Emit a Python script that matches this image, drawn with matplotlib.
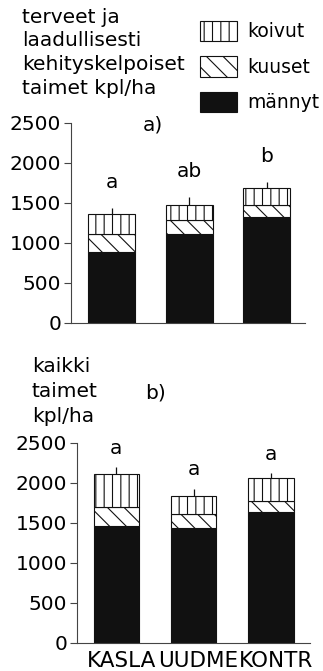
import numpy as np
import matplotlib.pyplot as plt
from matplotlib.patches import Patch
from matplotlib.transforms import ScaledTranslation

plt.rcParams['font.family'] = ['DejaVu Sans']
plt.rcParams['hatch.linewidth'] = 0.8

groups = ['KASLA', 'UUDME', 'KONTR']
species = ['männyt', 'kuuset', 'koivut']

# a) terveet ja laadullisesti kehityskelpoiset taimet, kpl/ha
a_mannyt = np.array([885, 1112, 1325])
a_kuuset = np.array([223, 171, 142])
a_koivut = np.array([246, 188, 220])
a_err = np.array([75, 96, 67])
a_letters = ['a', 'ab', 'b']

# b) kaikki taimet, kpl/ha
b_mannyt = np.array([1462, 1429, 1629])
b_kuuset = np.array([230, 179, 142])
b_koivut = np.array([416, 230, 283])
b_err = np.array([84, 87, 63])
b_letters = ['a', 'a', 'a']

styles = {
    'männyt': dict(color='#111111', edgecolor='#111111', hatch=None),
    'kuuset': dict(color='white', edgecolor='#111111', hatch='\\\\'),
    'koivut': dict(color='white', edgecolor='#111111', hatch='||'),
}

fig = plt.figure(figsize=(3.23, 6.71), dpi=100)
ax_a = fig.add_axes([0.2198, 0.5191, 0.7245, 0.2981])
ax_b = fig.add_axes([0.2384, 0.0422, 0.7214, 0.2981])


def draw_panel(ax, layers, err, letters, width, xlim, letter_off):
    x = np.arange(len(groups))
    bottom = np.zeros(len(groups))
    for name, vals in zip(species, layers):
        st = styles[name]
        ax.bar(x, vals, width, bottom=bottom, color=st['color'],
               edgecolor=st['edgecolor'], hatch=st['hatch'], linewidth=0.8)
        bottom = bottom + vals
    ax.errorbar(x, bottom, yerr=[np.zeros(len(x)), err], fmt='none',
                ecolor='#111111', elinewidth=0.9, capsize=0)
    for xi, top, lab in zip(x, bottom + err, letters):
        ax.annotate(lab, (xi, top), xytext=(0, letter_off),
                    textcoords='offset points', ha='center', va='baseline',
                    fontsize=14.5)
    ax.set_xlim(*xlim)
    ax.set_ylim(0, 2500)
    ax.set_yticks([0, 500, 1000, 1500, 2000, 2500])
    ax.tick_params(axis='y', labelsize=14.5, length=5, width=0.8, pad=2,
                   color='#444444')
    ax.tick_params(axis='x', length=0)
    for side in ['top', 'right']:
        ax.spines[side].set_visible(False)
    for side in ['left', 'bottom']:
        ax.spines[side].set_linewidth(0.8)
        ax.spines[side].set_color('#444444')
    ax.set_xticks(x)


draw_panel(ax_a, [a_mannyt, a_kuuset, a_koivut], a_err, a_letters,
           0.606, (-0.526, 2.493), 14.5)
ax_a.set_xticklabels([])
ax_a.text(0.308, 0.99, 'a)', transform=ax_a.transAxes, ha='left',
          va='center', fontsize=14.5)

draw_panel(ax_b, [b_mannyt, b_kuuset, b_koivut], b_err, b_letters,
           0.59, (-0.509, 2.507), 9.5)
ax_b.set_xticklabels(groups, fontsize=15.5)
ax_b.tick_params(axis='x', pad=6)
shift = ScaledTranslation(5 / 100, 0, fig.dpi_scale_trans)
for lab in ax_b.get_xticklabels():
    lab.set_transform(lab.get_transform() + shift)
ax_b.text(0.292, 1.248, 'b)', transform=ax_b.transAxes, ha='left',
          va='center', fontsize=14.5)

fig.text(22 / 323, 1 - 8 / 671,
         'terveet ja\nlaadullisesti\nkehityskelpoiset\ntaimet kpl/ha',
         ha='left', va='top', fontsize=14.5, linespacing=1.3)
fig.text(32 / 323, 1 - 357 / 671, 'kaikki\ntaimet\nkpl/ha',
         ha='left', va='top', fontsize=14.5, linespacing=1.4)

handles = [Patch(facecolor=styles[n]['color'], edgecolor='#111111',
                 hatch=styles[n]['hatch'], linewidth=0.8, label=n)
           for n in reversed(species)]
fig.legend(handles=handles, loc='upper left',
           bbox_to_anchor=(200 / 323, 1 - 21 / 671), frameon=False,
           fontsize=13.5, handlelength=1.97, handleheight=1.28,
           handletextpad=0.55, labelspacing=0.8, borderpad=0,
           borderaxespad=0)

fig.savefig('out.png', dpi=100)
